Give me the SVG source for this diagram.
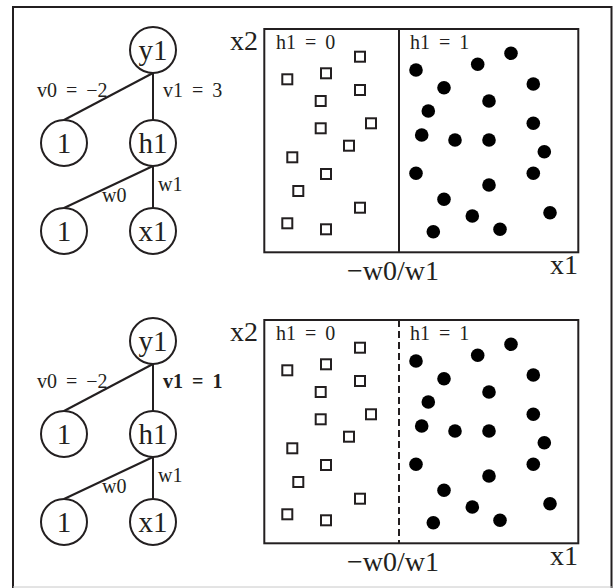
<svg xmlns="http://www.w3.org/2000/svg" width="614" height="588" viewBox="0 0 614 588">
<style>
text{font-family:"Liberation Serif","Times New Roman",serif;fill:#231f20}
.big{font-size:28px}
.lab{font-size:20px}
.eq{word-spacing:4px}
.node circle{fill:#fff;stroke:#231f20;stroke-width:2}
.node text{font-size:29px;text-anchor:middle}
.edge{stroke:#231f20;stroke-width:2;fill:none}
.box{fill:none;stroke:#231f20;stroke-width:2}
.sq{fill:#fff;stroke:#231f20;stroke-width:2}
.dot{fill:#000}
</style>
<defs>
<g id="squares">
<rect class="sq" x="355" y="51.7" width="10" height="10"/>
<rect class="sq" x="282.3" y="74.3" width="10" height="10"/>
<rect class="sq" x="321" y="68.3" width="10" height="10"/>
<rect class="sq" x="355" y="85" width="10" height="10"/>
<rect class="sq" x="315.7" y="96" width="10" height="10"/>
<rect class="sq" x="315.7" y="123.3" width="10" height="10"/>
<rect class="sq" x="366" y="118.3" width="10" height="10"/>
<rect class="sq" x="344" y="140.7" width="10" height="10"/>
<rect class="sq" x="287.3" y="152.3" width="10" height="10"/>
<rect class="sq" x="321" y="169" width="10" height="10"/>
<rect class="sq" x="293.3" y="186" width="10" height="10"/>
<rect class="sq" x="355" y="202.7" width="10" height="10"/>
<rect class="sq" x="282.3" y="218.3" width="10" height="10"/>
<rect class="sq" x="321" y="224.3" width="10" height="10"/>
</g>
<g id="dots">
<circle class="dot" cx="511" cy="53.3" r="6.8"/>
<circle class="dot" cx="477.7" cy="64.3" r="6.8"/>
<circle class="dot" cx="416" cy="70" r="6.8"/>
<circle class="dot" cx="444" cy="87.7" r="6.8"/>
<circle class="dot" cx="533.3" cy="84" r="6.8"/>
<circle class="dot" cx="489" cy="101" r="6.8"/>
<circle class="dot" cx="428.3" cy="111" r="6.8"/>
<circle class="dot" cx="533.3" cy="123.3" r="6.8"/>
<circle class="dot" cx="421.7" cy="135" r="6.8"/>
<circle class="dot" cx="455" cy="140" r="6.8"/>
<circle class="dot" cx="489" cy="140" r="6.8"/>
<circle class="dot" cx="544.3" cy="151.7" r="6.8"/>
<circle class="dot" cx="416" cy="173.3" r="6.8"/>
<circle class="dot" cx="533.3" cy="173.3" r="6.8"/>
<circle class="dot" cx="489" cy="185" r="6.8"/>
<circle class="dot" cx="444" cy="199.3" r="6.8"/>
<circle class="dot" cx="472.3" cy="216" r="6.8"/>
<circle class="dot" cx="550" cy="212.7" r="6.8"/>
<circle class="dot" cx="433.3" cy="231.7" r="6.8"/>
<circle class="dot" cx="500" cy="229.3" r="6.8"/>
</g>
</defs>
<rect width="614" height="588" fill="#fff"/>
<!-- outer frame -->
<path d="M13 588 V7 H611.5 V588" fill="none" stroke="#231f20" stroke-width="2"/>
<line x1="13" y1="587" x2="612" y2="587" stroke="#c8c8c8" stroke-width="1"/>

<!-- ===== top panel ===== -->
<g id="connectors-top">
<line class="edge" x1="153" y1="73" x2="64" y2="120"/>
<line class="edge" x1="153" y1="73" x2="153" y2="120"/>
<line class="edge" x1="153" y1="166" x2="64" y2="208"/>
<line class="edge" x1="153" y1="166" x2="153" y2="208"/>
<text class="lab eq" x="37" y="97">v0 = −2</text>
<text class="lab eq" x="163" y="97">v1 = 3</text>
<text class="lab" x="102" y="202">w0</text>
<text class="lab" x="158" y="191">w1</text>
</g>
<g id="top-y1" class="node"><circle cx="153" cy="50" r="23"/><text x="153" y="60">y1</text></g>
<g id="top-b1" class="node"><circle cx="64" cy="143" r="23"/><text x="64" y="153">1</text></g>
<g id="top-h1" class="node"><circle cx="153" cy="143" r="23"/><text x="153" y="153">h1</text></g>
<g id="top-b0" class="node"><circle cx="64" cy="231" r="23"/><text x="64" y="241">1</text></g>
<g id="top-x1" class="node"><circle cx="153" cy="231" r="23"/><text x="153" y="241">x1</text></g>

<g id="top-plot">
<rect class="box" x="264.3" y="29" width="314" height="223.3"/>
<line x1="399" y1="29" x2="399" y2="252.3" stroke="#231f20" stroke-width="2"/>
<use href="#squares"/>
<use href="#dots"/>
<text class="lab eq" x="276" y="49">h1 = 0</text>
<text class="lab eq" x="410" y="49">h1 = 1</text>
<text class="big" x="230" y="50">x2</text>
<text class="big" x="550" y="274">x1</text>
<text class="big" x="347" y="280">−w0/w1</text>
</g>

<!-- ===== bottom panel ===== -->
<g id="connectors-bottom">
<line class="edge" x1="153" y1="364" x2="64" y2="411"/>
<line class="edge" x1="153" y1="364" x2="153" y2="411"/>
<line class="edge" x1="153" y1="457" x2="64" y2="499"/>
<line class="edge" x1="153" y1="457" x2="153" y2="499"/>
<text class="lab eq" x="37" y="388">v0 = −2</text>
<text class="lab eq" x="163" y="388" font-weight="bold">v1 = 1</text>
<text class="lab" x="102" y="493">w0</text>
<text class="lab" x="158" y="482">w1</text>
</g>
<g id="bot-y1" class="node"><circle cx="153" cy="341" r="23"/><text x="153" y="351">y1</text></g>
<g id="bot-b1" class="node"><circle cx="64" cy="434" r="23"/><text x="64" y="444">1</text></g>
<g id="bot-h1" class="node"><circle cx="153" cy="434" r="23"/><text x="153" y="444">h1</text></g>
<g id="bot-b0" class="node"><circle cx="64" cy="522" r="23"/><text x="64" y="532">1</text></g>
<g id="bot-x1" class="node"><circle cx="153" cy="522" r="23"/><text x="153" y="532">x1</text></g>

<g id="bottom-plot">
<rect class="box" x="264.3" y="320" width="314" height="223.3"/>
<line x1="399" y1="320" x2="399" y2="543.3" stroke="#231f20" stroke-width="2" stroke-dasharray="7 4"/>
<use href="#squares" transform="translate(0 291)"/>
<use href="#dots" transform="translate(0 291)"/>
<text class="lab eq" x="276" y="340">h1 = 0</text>
<text class="lab eq" x="410" y="340">h1 = 1</text>
<text class="big" x="230" y="341">x2</text>
<text class="big" x="550" y="565">x1</text>
<text class="big" x="347" y="571">−w0/w1</text>
</g>
</svg>
